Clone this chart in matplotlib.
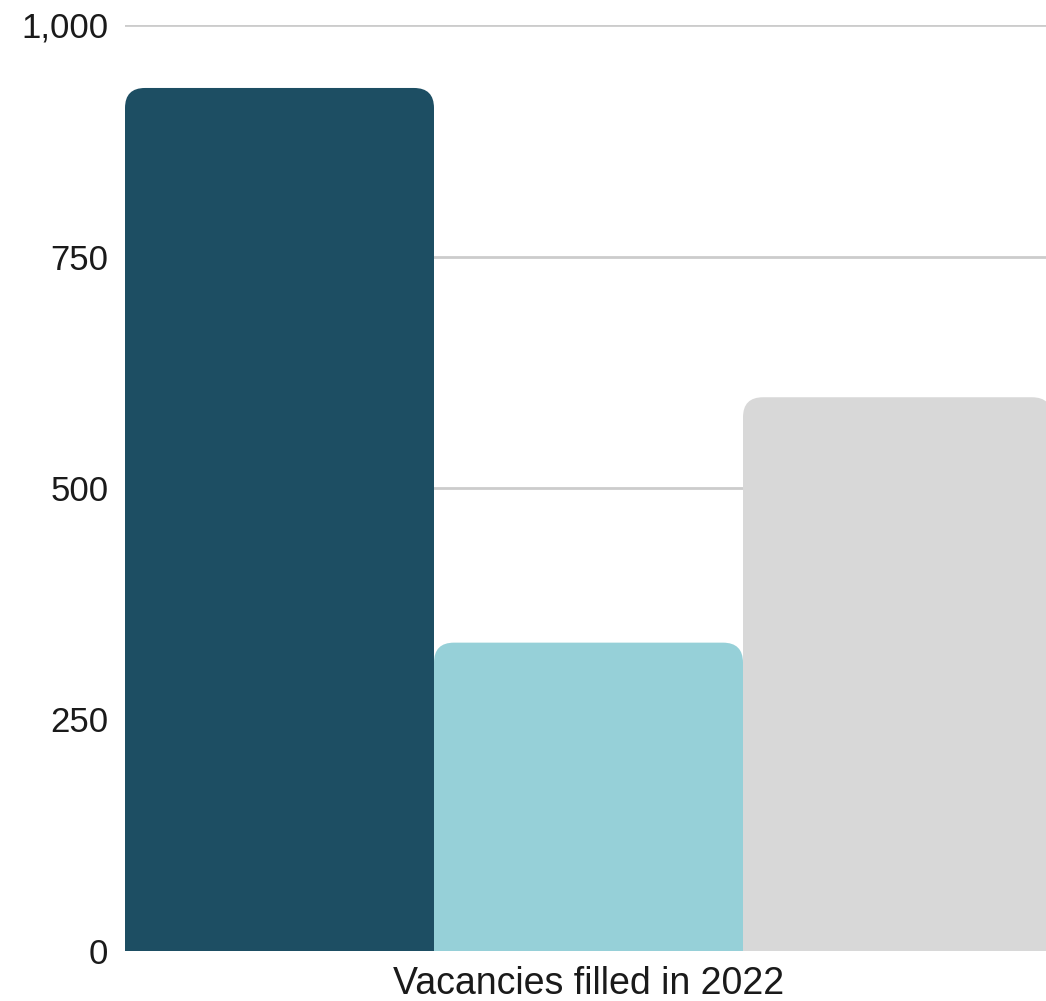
import matplotlib
matplotlib.use("Agg")
import matplotlib.pyplot as plt
from matplotlib.patches import FancyBboxPatch
from matplotlib.ticker import FuncFormatter

# data
series = ["Series 1", "Series 2", "Series 3"]
values = [932, 333, 598]
colors = ["#1D4E63", "#96D0D8", "#D8D8D8"]
yticks = [0, 250, 500, 750, 1000]
xlabel = "Vacancies filled in 2022"

plt.rcParams['font.family'] = ['Liberation Sans', 'DejaVu Sans']

fig = plt.figure(figsize=(10.46, 10.01), dpi=100)
# axes spills slightly past the right edge like the original
ax = fig.add_axes([125 / 1046, 50 / 1001, 927 / 1046, 926 / 1001])

ax.set_xlim(0, len(values))
ax.set_ylim(0, 1000)

# rounded top corners: radius in pixels converted to data units
r_px = 20
ax_w_px = 927
ax_h_px = 926
rx = r_px * len(values) / ax_w_px
ry = r_px * 1000 / ax_h_px

for i, (v, c) in enumerate(zip(values, colors)):
    p = FancyBboxPatch((i, -2 * ry), 1, v + 2 * ry,
                       boxstyle="round,pad=0,rounding_size=%f" % rx,
                       mutation_aspect=ry / rx,
                       facecolor=c, edgecolor="none", zorder=3,
                       label=series[i])
    ax.add_patch(p)

ax.set_yticks(yticks)
ax.yaxis.set_major_formatter(FuncFormatter(lambda y, _: f"{int(y):,}"))
ax.set_xticks([])
ax.tick_params(axis='y', length=0, pad=12, labelsize=25, labelcolor="#1A1A1A")
ax.grid(axis='y', color="#CCCCCC", linewidth=2)
ax.set_axisbelow(True)
for s in ax.spines.values():
    s.set_visible(False)

ax.set_xlabel(xlabel, fontsize=27, color="#1A1A1A", labelpad=11)

fig.savefig("out.png", dpi=100)
